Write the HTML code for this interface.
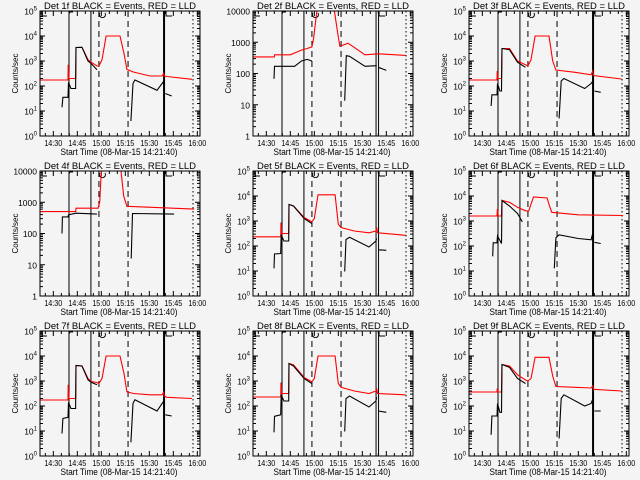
<!DOCTYPE html>
<html><head><meta charset="utf-8"><style>
html,body{margin:0;padding:0;background:#f4f4f4;}
svg{display:block;font-family:"Liberation Sans",sans-serif;}
</style></head><body>
<svg id="chart" width="640" height="480" viewBox="0 0 640 480" xmlns="http://www.w3.org/2000/svg">
<rect x="0" y="0" width="640" height="480" fill="#f4f4f4"/>
</svg>
<script>
// ---- data (time in minutes since 14:30, values are log10 counts/sec) ----
const xTickLabels = ["14:30","14:45","15:00","15:15","15:30","15:45","16:00"];
const xTickTimes = [0,15,30,45,60,75,90];
const eventLineTimes = [9.8,23.5,28.5,46.7,69.2,87.3];

const p1RedT = [-8.3,9.2,9.3,9.8,10,14,14.2,17.9,21.7,23.6,27.3,28.5,30.4,33,41.7,44.2,46,50,60.4,68,69,69.3,71,86.7];
const p1RedV = [2.24,2.24,2.85,2.3,2.3,2.3,3.54,3.55,3.05,2.95,2.8,2.8,3.05,4.0,4.0,3.3,2.67,2.56,2.4,2.4,2.5,2.4,2.38,2.27];
const p1BlkT = [5.4,6,9.2,9.5,11,13.9,14.2,17.9,21.7,23.6,27.3,null,48.5,49.8,51,64.8,68,69.2,null,70,74];
const p1BlkV = [1.15,1.55,1.55,2.15,1.9,1.9,3.54,3.55,3.0,2.9,2.65,null,0.6,2.1,2.24,1.83,2.1,2.2,null,1.7,1.6];

const p2RedT = [-8.3,5,5.2,15,22,25.5,28.5,29.5,32.3,41.7,44.8,46,51,54,61.7,70,87.2];
const p2RedV = [2.53,2.53,2.6,2.6,2.75,2.8,2.85,3.1,4.3,4.3,3.23,2.87,2.97,2.87,2.6,2.63,2.58];
const p2BlkT = [4.8,5.1,17.7,22,25.5,28.5,null,49,50,52,61.7,69,null,70,75];
const p2BlkV = [1.83,2.23,2.23,2.4,2.45,2.4,null,1.13,2.57,2.55,2.23,2.25,null,2.2,2.1];

const p3RedT = [-8.3,9.2,9.3,9.8,12,12.3,17,22,27,28.5,30.4,33,41.7,44,46,58,68,69,69.5,87];
const p3RedV = [2.24,2.24,2.6,2.3,2.3,3.5,3.5,3.0,2.85,2.8,3.05,4.0,4.0,3.0,2.64,2.55,2.45,2.6,2.42,2.28];
const p3BlkT = [5.5,6,9.2,9.5,11,12,12.3,17,22,27,null,48,49.3,51,64,68,69.2,null,70,74];
const p3BlkV = [1.2,1.65,1.65,2.1,1.8,1.8,3.5,3.45,2.95,2.75,null,0.7,2.2,2.3,1.9,2.1,2.2,null,1.8,1.75];

const p4RedT = [-8.3,14,14.2,28,29,30.3,41.7,44,46,88];
const p4RedV = [2.7,2.7,2.81,2.81,3.0,4.3,4.3,3.2,2.87,2.78];
const p4BlkT = [5.4,5.7,9.2,9.5,14.2,27.3,null,48.7,49.5,75.5];
const p4BlkV = [2.0,2.53,2.53,2.6,2.65,2.62,null,1.2,2.64,2.62];

const p5RedT = [-8.3,9.0,9.2,9.6,14,14.2,17,23.6,28.5,30,32.3,43,45,46.7,55,64.2,68.5,69,69.5,87];
const p5RedV = [2.37,2.37,2.94,2.5,2.5,3.66,3.6,3.14,2.97,3.1,4.05,4.05,2.87,2.74,2.6,2.53,2.6,2.74,2.53,2.43];
const p5BlkT = [4.8,5.1,9,9.3,11,14,14.2,17,23.6,28.5,null,49,49.8,52,64.2,68.5,69,null,70,75];
const p5BlkV = [1.11,1.68,1.7,2.45,2.2,2.2,3.66,3.6,3.1,2.9,null,0.98,2.26,2.35,1.96,2.2,2.3,null,1.85,1.83];

const p6RedT = [-8.3,9.2,9.4,10,12,12.3,17,22,27,29,32,40.5,42,43.4,60,88];
const p6RedV = [3.2,3.2,3.48,3.2,3.2,3.82,3.75,3.55,3.41,3.4,3.96,3.92,3.6,3.35,3.25,3.22];
const p6BlkT = [6.5,6.8,9.2,9.5,12,12.3,17,22,25,null,45,46,48,60,68,69,null,70,74];
const p6BlkV = [1.59,2.13,2.13,2.4,2.1,3.82,3.6,3.3,2.97,null,1.11,2.33,2.45,2.3,2.25,2.5,null,2.15,2.1];

const p7RedT = [-8.3,9.2,9.3,9.8,10,14,14.2,17.9,21.7,23.6,27.3,28.5,30.4,33,41.7,44.2,46,50,60.4,68,69,69.3,71,86.7];
const p7RedV = [2.24,2.24,2.85,2.3,2.3,2.3,3.62,3.6,3.1,2.98,2.94,2.9,3.1,4.0,4.0,3.3,2.57,2.5,2.45,2.45,2.55,2.4,2.35,2.3];
const p7BlkT = [5.4,6,9.2,9.5,11,13.9,14.2,17.9,21.7,23.6,27.3,null,48.5,49.8,51,64.8,68,69.2,null,70,74];
const p7BlkV = [0.9,1.5,1.55,2.15,1.9,1.9,3.62,3.6,3.05,2.95,2.85,null,0.55,2.1,2.25,1.8,2.1,2.2,null,1.65,1.6];

const p8RedT = [-8.3,9.0,9.2,9.6,14,14.2,17,23.6,28.5,30,32.3,43,45,46.7,55,64.2,68.5,69,69.5,87];
const p8RedV = [2.36,2.36,2.94,2.5,2.5,3.7,3.65,3.14,2.97,3.1,4.0,4.0,2.9,2.75,2.6,2.5,2.6,2.7,2.5,2.45];
const p8BlkT = [4.8,5.1,9,9.3,11,14,14.2,17,23.6,28.5,null,49,49.8,52,64.2,68.5,69,null,70,75];
const p8BlkV = [0.95,1.59,1.65,2.45,2.2,2.2,3.7,3.6,3.1,2.9,null,0.98,2.3,2.4,1.96,2.2,2.35,null,1.8,1.75];

const p9RedT = [-8.3,9.2,9.3,9.8,12,12.3,17,22,27,28.5,30.4,33,41.7,44,46,58,68,69,69.5,87];
const p9RedV = [2.56,2.56,2.7,2.56,2.56,3.66,3.6,3.25,3.04,3.0,3.1,3.95,3.95,3.2,2.78,2.75,2.72,2.8,2.67,2.6];
const p9BlkT = [5.5,6,9.2,9.5,11,12,12.3,17,22,27,null,48,49.3,51,64,68,69.2,null,70,74];
const p9BlkV = [0.85,1.6,1.6,2.1,1.75,1.75,3.66,3.55,3.1,2.9,null,0.7,2.3,2.45,2.0,2.1,2.3,null,1.8,1.8];

const panelRedT = [p1RedT,p2RedT,p3RedT,p4RedT,p5RedT,p6RedT,p7RedT,p8RedT,p9RedT];
const panelRedV = [p1RedV,p2RedV,p3RedV,p4RedV,p5RedV,p6RedV,p7RedV,p8RedV,p9RedV];
const panelBlkT = [p1BlkT,p2BlkT,p3BlkT,p4BlkT,p5BlkT,p6BlkT,p7BlkT,p8BlkT,p9BlkT];
const panelBlkV = [p1BlkV,p2BlkV,p3BlkV,p4BlkV,p5BlkV,p6BlkV,p7BlkV,p8BlkV,p9BlkV];
const panelDecades = [5,4,5,4,5,5,5,5,5];

const NS = "http://www.w3.org/2000/svg";
const svg = document.getElementById("chart");
const colX = [40,253,469], rowY = [11,171,331], W = 160, H = 125;
const T0 = -8.33, T1 = 91.67;

function mk(tag, attrs, parent){
  const e = document.createElementNS(NS, tag);
  for (const k in attrs) e.setAttribute(k, attrs[k]);
  (parent||svg).appendChild(e);
  return e;
}

for (let p = 0; p < 9; p++) {
  const L = colX[p%3], Tp = rowY[Math.floor(p/3)];
  const dec = panelDecades[p];
  const xs = t => L + (t - T0) / (T1 - T0) * W;
  const ys = v => Tp + H - v / dec * H;
  const g = mk("g", {});
  
  
  const clipId = "clip" + p;
  const cp = mk("clipPath", {id: clipId}, g);
  mk("rect", {x: L, y: Tp, width: W, height: H}, cp);

  for (let d = 0; d <= dec; d++) {
    const y = ys(d);
    const tk = mk("path", {d:`M${L},${y}h5M${L+W},${y}h-5`, stroke:"#000", "stroke-width":1}, g);
    
    
    if (d < dec) for (let m = 2; m <= 9; m++) {
      const ym = ys(d + Math.log10(m));
      const mt = mk("path", {d:`M${L},${ym}h3M${L+W},${ym}h-3`, stroke:"#000", "stroke-width":1}, g);
      
      
    }
    const lab = mk("text", {x: L-3, y: y+3.5, "font-size": 8.5, "text-anchor":"end", fill:"#000"}, g);
    
    
    if (dec === 4) { lab.textContent = String(Math.pow(10,d)); }
    else {
      lab.textContent = "10";
      const sup = mk("tspan", {dy: -4, "font-size": 6}, lab);
      sup.textContent = String(d);
    }
  }
  for (let t = -5; t <= 90; t += 5) {
    const x = xs(t); const len = (t % 15 === 0) ? 5 : 3;
    const xt = mk("path", {d:`M${x},${Tp+H}v-${len}M${x},${Tp}v${len}`, stroke:"#000", "stroke-width":1}, g);
    
    
  }
  xTickLabels.forEach((s,i) => {
    const lab = mk("text", {x: xs(xTickTimes[i]), y: Tp+H+10, "font-size": 8, "text-anchor":"middle", fill:"#000", textLength: 18, lengthAdjust:"spacingAndGlyphs"}, g);
    
    
    lab.textContent = s;
  });
  const styles = [{w:1,da:""},{w:1,da:""},{w:1,da:"6,4"},{w:1,da:"6,4"},{w:2,da:""},{w:1,da:"1.5,2.5"}];
  eventLineTimes.forEach((t,i) => {
    const x = xs(t);
    const st = styles[i];
    if (i === 4 && p % 3 === 1) {
      [x-1, x+1.5].forEach(xx => {
        const ln = mk("line", {x1:xx, x2:xx, y1:Tp, y2:Tp+H, stroke:"#000", "stroke-width":1}, g);
        
        
      });
    } else {
      const ln = mk("line", {x1:x, x2:x, y1:Tp, y2:Tp+H, stroke:"#000", "stroke-width":st.w}, g);
      if (st.da) ln.setAttribute("stroke-dasharray", st.da);
      
      
    }
  });
  const br = mk("path", {d:`M${L+2},${Tp}v5h5M${xs(9.8)},${Tp+1}h4M${xs(69.2)+2},${Tp}v5h6M${xs(28.5)+1},${Tp+2}a3,3 0 1 0 5,0`, stroke:"#000", "stroke-width":1, fill:"none"}, g);
  
  

  function series(T, V, color, name) {
    let d = "", pen = false;
    for (let i = 0; i < T.length; i++) {
      if (T[i] === null || V[i] === null) { pen = false; continue; }
      d += (pen ? "L" : "M") + xs(T[i]).toFixed(1) + "," + ys(V[i]).toFixed(1);
      pen = true;
    }
    const pth = mk("path", {d, stroke: color, "stroke-width": 1.1, fill: "none", "clip-path": `url(#${clipId})`}, g);
    
    
  }
  series(panelRedT[p], panelRedV[p], "#ff0000", "lld-series-red");
  series(panelBlkT[p], panelBlkV[p], "#000000", "events-series-black");

  const fr = mk("rect", {x:L, y:Tp, width:W, height:H, fill:"none", stroke:"#000", "stroke-width":1}, g);
  
  

  const ti = mk("text", {x: L+W/2, y: Tp-2, "font-size": 9, "text-anchor":"middle", fill:"#000", textLength: 152, lengthAdjust:"spacingAndGlyphs"}, g);
  
  
  ti.textContent = "Det " + (p+1) + "f BLACK = Events, RED = LLD";
  const xt = mk("text", {x: L+W/2-1, y: Tp+H+19, "font-size": 9, "text-anchor":"middle", fill:"#000", textLength: 117, lengthAdjust:"spacingAndGlyphs"}, g);
  
  
  xt.textContent = "Start Time (08-Mar-15 14:21:40)";
  const yx = L-22, yy = Tp+H/2;
  const yt = mk("text", {x: yx, y: yy, "font-size": 8, "text-anchor":"middle", fill:"#000", transform:`rotate(-90 ${yx} ${yy})`, textLength: 40, lengthAdjust:"spacingAndGlyphs"}, g);
  
  
  yt.textContent = "Counts/sec";
}
</script>
</body></html>
